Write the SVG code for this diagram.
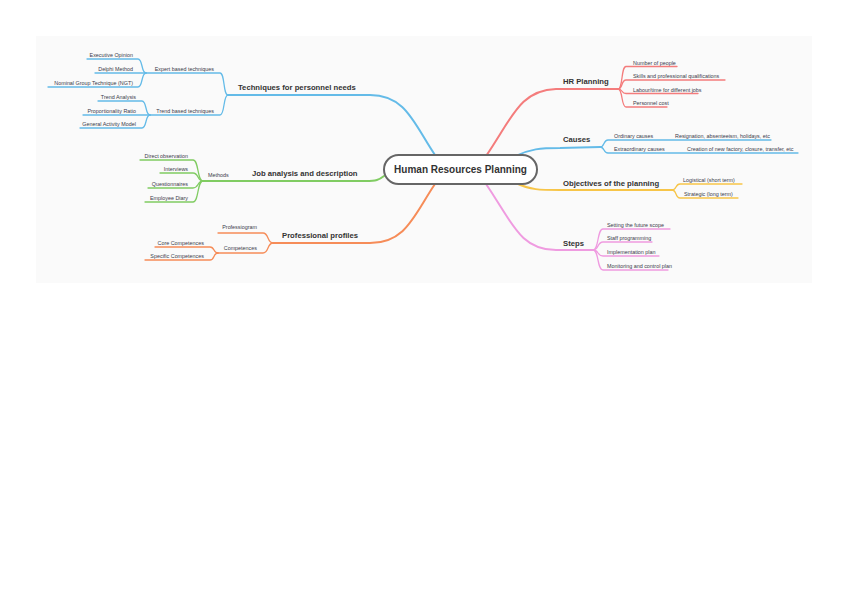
<svg xmlns="http://www.w3.org/2000/svg" width="848" height="599" viewBox="0 0 848 599">
<style>
text{font-family:"Liberation Sans",Arial,sans-serif;fill:#333}
.m{font-size:7.7px;font-weight:bold}
.s{font-size:5.4px;fill:#3a3a4a}
.e{text-anchor:end}
path{fill:none;stroke-linecap:round;stroke-linejoin:round}
.w{stroke-width:2}
.t{stroke-width:1.3}
.red{stroke:#f47c7c}.blue{stroke:#64bbe8}.yel{stroke:#f7c548}.pink{stroke:#ef9be0}.grn{stroke:#80cc62}.org{stroke:#f68c58}
</style>
<rect x="36" y="36" width="776" height="247" fill="#fafafa"/>
<g id="connectors">
<!-- main branches -->
<path class="w red" d="M486,156 C512,118 520,90 556,89 L618,89"/>
<path class="w blue" d="M516,156 C530,149 540,148 560,148 L600,147"/>
<path class="w yel" d="M516,183 C530,190 540,190 560,190 L672,190"/>
<path class="w pink" d="M486,184 C512,222 520,250 556,250 L593,250"/>
<path class="w blue" d="M435,155 C414,124 406,95 370,95 L228,95"/>
<path class="w grn" d="M384,176 C379,180 376,181 366,181 L203,181"/>
<path class="w org" d="M435,184 C414,215 406,243 370,243 L273,243"/>
<!-- HR Planning children -->
<path class="t red" d="M618,89 C623,89 621,66.5 626,66.5 L677,66.5"/>
<path class="t red" d="M618,89 C623,89 621,80 626,80 L725,80"/>
<path class="t red" d="M618,89 C623,89 621,93.5 626,93.5 L698,93.5"/>
<path class="t red" d="M618,89 C623,89 621,107 626,107 L667,107"/>
<!-- Causes children -->
<path class="t blue" d="M600,147 C605,147 603,140 608,140 L771,140"/>
<path class="t blue" d="M600,147 C605,147 603,153 608,153 L798,153"/>
<!-- Objectives children -->
<path class="t yel" d="M672,190 C677,190 675,184 680,184 L742,184"/>
<path class="t yel" d="M672,190 C677,190 675,198 680,198 L738,198"/>
<!-- Steps children -->
<path class="t pink" d="M593,250 C599,250 597,229 603,229 L670,229"/>
<path class="t pink" d="M593,250 C599,250 597,242 603,242 L652,242"/>
<path class="t pink" d="M593,250 C599,250 597,256 603,256 L659,256"/>
<path class="t pink" d="M593,250 C599,250 597,270 603,270 L668,270"/>
<!-- Techniques children -->
<path class="t blue" d="M228,95 C223,95 225,73 220,73 L146,73"/>
<path class="t blue" d="M228,95 C223,95 225,115 220,115 L150,115"/>
<path class="t blue" d="M146,73 C141,73 143,59 138,59 L87,59"/>
<path class="t blue" d="M146,73 L95,73"/>
<path class="t blue" d="M146,73 C141,73 143,87 138,87 L48,87"/>
<path class="t blue" d="M150,115 C145,115 147,101 142,101 L98,101"/>
<path class="t blue" d="M150,115 L83,115"/>
<path class="t blue" d="M150,115 C145,115 147,128 142,128 L80,128"/>
<!-- Methods children -->
<path class="t grn" d="M203,181 C197,181 199,160 193,160 L140,160"/>
<path class="t grn" d="M203,181 C197,181 199,173 193,173 L160,173"/>
<path class="t grn" d="M203,181 C197,181 199,188 193,188 L148,188"/>
<path class="t grn" d="M203,181 C197,181 199,202 193,202 L145,202"/>
<!-- Professional profiles children -->
<path class="t org" d="M273,243 C267,243 269,233 263,233 L218,233"/>
<path class="t org" d="M273,243 C267,243 269,253 263,253 L218,253"/>
<path class="t org" d="M218,253 C213,253 215,247 210,247 L155,247"/>
<path class="t org" d="M218,253 C213,253 215,260 210,260 L145,260"/>
</g>
<g id="center">
<rect x="384" y="155" width="153" height="29" rx="14.5" fill="#fff" stroke="#666" stroke-width="2"/>
<text x="460.5" y="173" text-anchor="middle" style="font-size:10px;font-weight:bold">Human Resources Planning</text>
</g>
<g id="hr-planning">
<text class="m" x="563" y="84">HR Planning</text>
<text class="s" x="633" y="64.5">Number of people</text>
<text class="s" x="633" y="78">Skills and professional qualifications</text>
<text class="s" x="633" y="91.5">Labour/time for different jobs</text>
<text class="s" x="633" y="105">Personnel cost</text>
</g>
<g id="causes">
<text class="m" x="563" y="142">Causes</text>
<text class="s" x="614" y="138">Ordinary causes</text>
<text class="s" x="675" y="138">Resignation, absenteeism, holidays, etc</text>
<text class="s" x="614" y="151">Extraordinary causes</text>
<text class="s" x="687" y="151">Creation of new factory, closure, transfer, etc</text>
</g>
<g id="objectives">
<text class="m" x="563" y="186">Objectives of the planning</text>
<text class="s" x="683" y="182">Logistical (short term)</text>
<text class="s" x="684" y="196">Strategic (long term)</text>
</g>
<g id="steps">
<text class="m" x="563" y="246">Steps</text>
<text class="s" x="607" y="227">Setting the future scope</text>
<text class="s" x="607" y="240">Staff programming</text>
<text class="s" x="607" y="254">Implementation plan</text>
<text class="s" x="607" y="268">Monitoring and control plan</text>
</g>
<g id="techniques">
<text class="m" x="238" y="90">Techniques for personnel needs</text>
<text class="s e" x="214" y="71">Expert based techniques</text>
<text class="s e" x="214" y="113">Trend based techniques</text>
<text class="s e" x="133" y="57">Executive Opinion</text>
<text class="s e" x="133" y="71">Delphi Method</text>
<text class="s e" x="133" y="85">Nominal Group Technique (NGT)</text>
<text class="s e" x="136" y="99">Trend Analysis</text>
<text class="s e" x="136" y="113">Proportionality Ratio</text>
<text class="s e" x="136" y="126">General Activity Model</text>
</g>
<g id="job-analysis">
<text class="m" x="252" y="176">Job analysis and description</text>
<text class="s" x="208" y="177">Methods</text>
<text class="s e" x="188" y="158">Direct observation</text>
<text class="s e" x="188" y="171">Interviews</text>
<text class="s e" x="188" y="186">Questionnaires</text>
<text class="s e" x="188" y="200">Employee Diary</text>
</g>
<g id="professional-profiles">
<text class="m" x="282" y="238">Professional profiles</text>
<text class="s e" x="257" y="229">Professiogram</text>
<text class="s e" x="257" y="250">Competences</text>
<text class="s e" x="204" y="245">Core Competences</text>
<text class="s e" x="204" y="258">Specific Competences</text>
</g>
</svg>
